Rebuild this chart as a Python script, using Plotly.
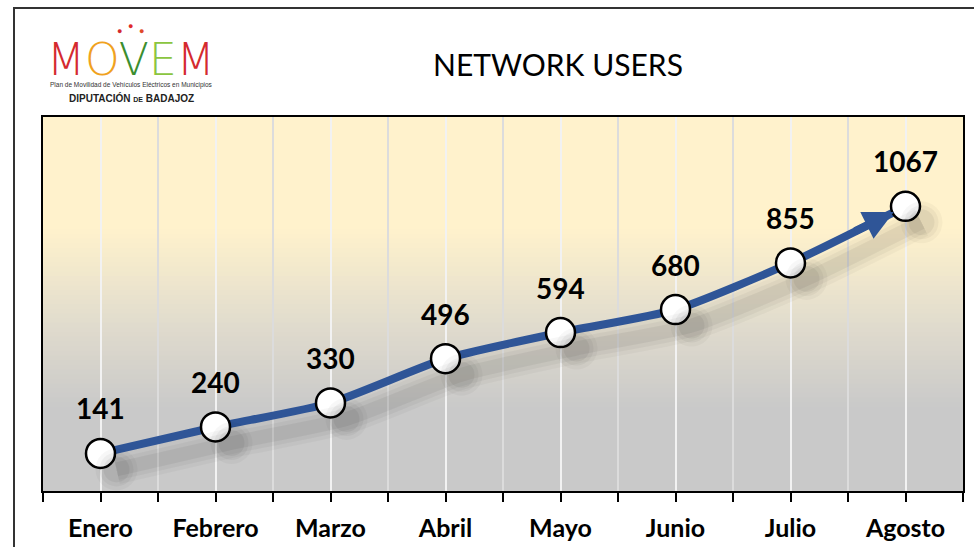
import plotly.graph_objects as go

months = ["Enero", "Febrero", "Marzo", "Abril", "Mayo", "Junio", "Julio", "Agosto"]
users = [141, 240, 330, 496, 594, 680, 855, 1067]
title_text = "NETWORK USERS"

xs = list(range(len(months)))
Y_MAX = 1402
PX_PER_UNIT_Y = 374 / Y_MAX
PX_PER_CAT = 920 / len(months)
SH_X, SH_Y = 16, 16  # shadow offset in px

LINE_BLUE = "#2F5597"

fig = go.Figure()

# shadow traces on shifted overlay axes
for w, a in [(30, 0.03), (22, 0.04), (14, 0.05)]:
    fig.add_trace(go.Scatter(x=xs, y=users, mode="lines",
                             line=dict(color=f"rgba(0,0,0,{a})", width=w, shape="spline", smoothing=0.6),
                             xaxis="x2", yaxis="y2", hoverinfo="skip", showlegend=False))
for s, a in [(42, 0.03), (34, 0.04), (26, 0.05)]:
    fig.add_trace(go.Scatter(x=xs, y=users, mode="markers",
                             marker=dict(size=s, color=f"rgba(0,0,0,{a})", line=dict(width=0)),
                             xaxis="x2", yaxis="y2", hoverinfo="skip", showlegend=False))

# main line
fig.add_trace(go.Scatter(x=xs, y=users, mode="lines",
                         line=dict(color=LINE_BLUE, width=8, shape="spline", smoothing=0.6),
                         showlegend=False, hoverinfo="skip"))

# arrow head at the end
frac = 0.55
ax_ = xs[-2] + frac * (xs[-1] - xs[-2])
ay_ = users[-2] + frac * (users[-1] - users[-2])
annotations = [dict(x=xs[-1], y=users[-1], ax=ax_, ay=ay_, xref="x", yref="y", axref="x", ayref="y",
                    showarrow=True, arrowhead=2, arrowsize=0.75, arrowwidth=8, arrowcolor=LINE_BLUE,
                    standoff=13, text="")]

# markers
fig.add_trace(go.Scatter(x=xs, y=users, mode="markers",
                         marker=dict(size=29, color="white", line=dict(color="black", width=2.5)),
                         showlegend=False, hoverinfo="skip"))

# data labels
for x, v in zip(xs, users):
    annotations.append(dict(x=x, y=v, text=f"<b>{v}</b>", showarrow=False, yshift=45,
                            font=dict(family="Lato", size=28, color="black"),
                            xanchor="center", yanchor="middle"))

def px(xp):
    return (xp - 43) / 920

def py(yp):
    return (491 - yp) / 374

# logo
logo = ('<span style="color:#D42A2F">M</span><span style="color:#F0A21E">O</span>'
        '<span style="color:#3B8E2F">V</span><span style="color:#8BC53F">E</span>'
        '<span style="color:#D42A2F">M</span>')
annotations.append(dict(x=px(131), y=py(59), xref="paper", yref="paper", text=logo, showarrow=False,
                        font=dict(family="DejaVu Sans", size=44, weight=200), xanchor="center", yanchor="middle"))
for dxp, dyp, c in [(119, 31, "#D42A2F"), (130, 26, "#E02A2A"), (141, 31, "#E04A2A")]:
    annotations.append(dict(x=px(dxp), y=py(dyp), xref="paper", yref="paper", text="●", showarrow=False,
                            font=dict(size=9, color=c), xanchor="center", yanchor="middle"))
annotations.append(dict(x=px(131), y=py(85), xref="paper", yref="paper",
                        text="Plan de Movilidad de Vehículos Eléctricos en Municipios", showarrow=False,
                        font=dict(family="Liberation Sans Narrow, Liberation Sans", size=6.5, color="#333"),
                        xanchor="center", yanchor="middle"))
annotations.append(dict(x=px(131), y=py(98), xref="paper", yref="paper",
                        text="<b>DIPUTACIÓN <span style='font-size:7px'>DE</span> BADAJOZ</b>", showarrow=False,
                        font=dict(family="Liberation Sans Narrow, Liberation Sans", size=10, color="#222"),
                        xanchor="center", yanchor="middle"))

# background gradient
shapes = []
stops = [(0.0, (201, 201, 201)), (0.22, (201, 201, 201)), (0.45, (225, 220, 205)), (0.70, (255, 242, 204)), (1.0, (255, 242, 204))]
N = 80
def col(t):
    for (t0, c0), (t1, c1) in zip(stops[:-1], stops[1:]):
        if t0 <= t <= t1:
            f = (t - t0) / (t1 - t0) if t1 > t0 else 0
            return tuple(round(c0[i] + f * (c1[i] - c0[i])) for i in range(3))
    return stops[-1][1]
for i in range(N):
    y0, y1 = i / N, (i + 1) / N
    c = col((y0 + y1) / 2)
    shapes.append(dict(type="rect", xref="paper", yref="paper", x0=0, x1=1, y0=y0, y1=y1 + 0.002,
                       fillcolor=f"rgb{c}", line=dict(width=0), layer="below"))
# outer frame
shapes.append(dict(type="rect", xref="paper", yref="paper", x0=px(14), x1=1.2, y0=-0.5, y1=py(8),
                   line=dict(color="#333", width=2), fillcolor="rgba(0,0,0,0)", layer="above"))

fig.update_layout(
    width=974, height=547,
    margin=dict(l=43, r=11, t=117, b=56, autoexpand=False),
    paper_bgcolor="white", plot_bgcolor="rgba(0,0,0,0)",
    title=dict(text=title_text, x=558 / 974, xref="container", xanchor="center",
               y=1 - 65 / 547, yanchor="middle", font=dict(family="Lato", size=30, color="black")),
    xaxis=dict(range=[-0.5, len(months) - 0.5], tickmode="array", tickvals=xs, ticktext=months,
               showgrid=True, gridcolor="#F2F2F2", gridwidth=1.5,
               ticks="outside", ticklen=9, tickwidth=2, tickcolor="black",
               showline=True, linecolor="black", linewidth=2, mirror=True,
               minor=dict(tick0=-0.5, dtick=1, ticks="outside", ticklen=9, tickwidth=2, tickcolor="black",
                          showgrid=True, gridcolor="#DCDCDC", gridwidth=1.5),
               tickfont=dict(family="Lato", size=25, color="black", weight="bold"),
               ticklabelstandoff=5, zeroline=False, fixedrange=True),
    yaxis=dict(range=[0, Y_MAX], showgrid=False, showticklabels=False, ticks="", zeroline=False,
               showline=True, linecolor="black", linewidth=2, mirror=True, fixedrange=True),
    xaxis2=dict(overlaying="x", range=[-0.5 - SH_X / PX_PER_CAT, len(months) - 0.5 - SH_X / PX_PER_CAT],
                visible=False),
    yaxis2=dict(overlaying="y", range=[SH_Y / PX_PER_UNIT_Y, Y_MAX + SH_Y / PX_PER_UNIT_Y], visible=False),
    annotations=annotations,
    shapes=shapes,
)

fig.write_html("out.html", config={"displayModeBar": False},
               post_script="document.body.style.margin='0';document.body.style.overflow='hidden';")
